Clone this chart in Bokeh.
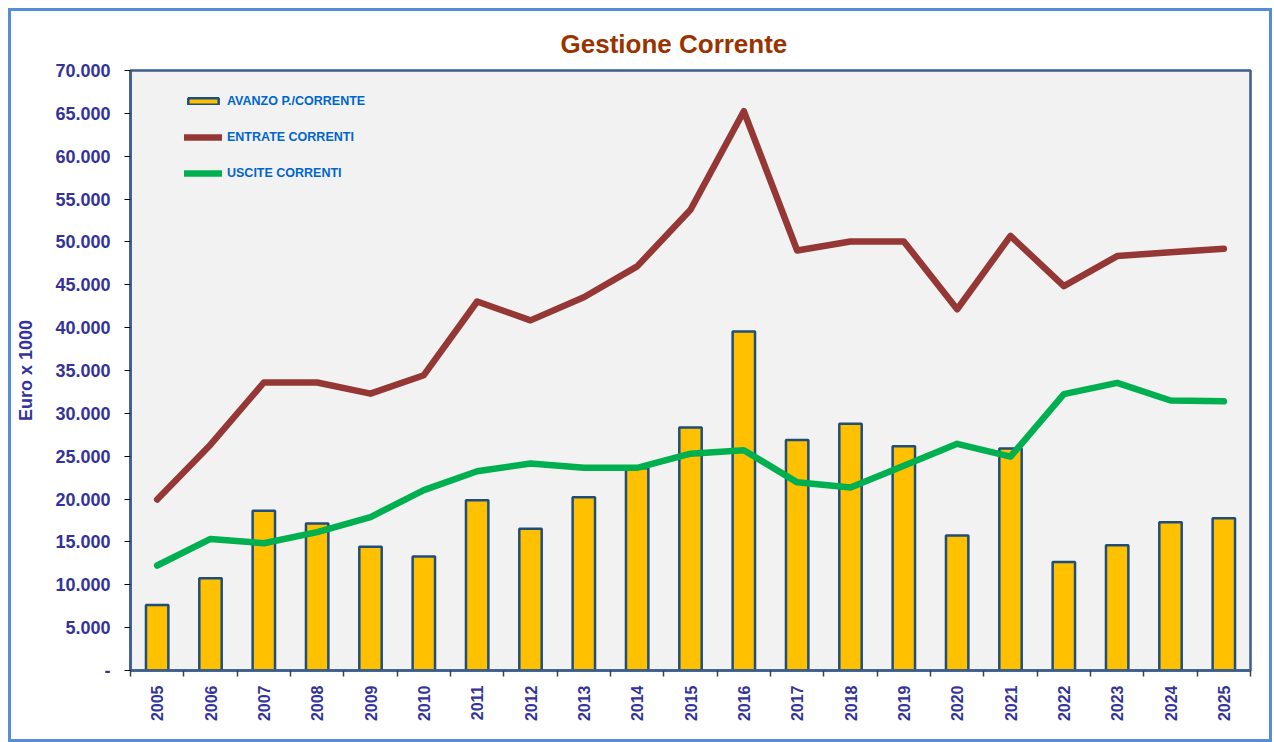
import math
from bokeh.plotting import figure
from bokeh.models import FixedTicker, Legend, LegendItem, Range1d
from bokeh.layouts import column
from bokeh.embed import file_html
from bokeh.resources import INLINE

# ---- data ----
years = [2005, 2006, 2007, 2008, 2009, 2010, 2011, 2012, 2013, 2014, 2015,
         2016, 2017, 2018, 2019, 2020, 2021, 2022, 2023, 2024, 2025]
avanzo = [7650, 10750, 18650, 17150, 14450, 13300, 19850, 16550, 20200, 23600, 28350,
          39550, 26900, 28800, 26150, 15750, 25900, 12650, 14600, 17300, 17750]
entrate = [19950, 26350, 33600, 33600, 32300, 34450, 43050, 40850, 43550, 47150, 53750,
           65250, 49000, 50050, 50050, 42150, 50700, 44850, 48350, 48800, 49200]
uscite = [12250, 15350, 14850, 16150, 17900, 21050, 23250, 24150, 23650, 23650, 25300,
          25700, 21950, 21350, 23900, 26450, 24950, 32250, 33550, 31500, 31400]
y_ticks = [0, 5000, 10000, 15000, 20000, 25000, 30000, 35000, 40000, 45000,
           50000, 55000, 60000, 65000, 70000]
series_labels = ["AVANZO P./CORRENTE", "ENTRATE CORRENTI", "USCITE CORRENTI"]
title_text = "Gestione Corrente"
y_label = "Euro x 1000"

FONT = "Liberation Sans"
AXIS_COL = "#333399"
FRAME_COL = "#3B5E8C"

p = figure(width=1258, height=728, output_backend="svg", toolbar_location=None,
           x_range=Range1d(years[0] - 0.5, years[-1] + 0.5),
           y_range=Range1d(0, 70000),
           min_border_left=119, min_border_right=19, min_border_top=59, min_border_bottom=69,
           background_fill_color="#F2F2F2", border_fill_color="white")

p.outline_line_color = FRAME_COL
p.outline_line_width = 2.5
p.xgrid.visible = False
p.ygrid.visible = False

# title
p.title.text = title_text
p.title.align = "left"
p.title.offset = 430
p.title.text_font = FONT
p.title.text_font_size = "26px"
p.title.text_font_style = "bold"
p.title.text_color = "#993300"
p.title.standoff = 23

bars = p.vbar(x=years, top=avanzo, width=0.42, fill_color="#FFC000",
              line_color="#1F4E79", line_width=2.5)
l1 = p.line(years, entrate, line_color="#953735", line_width=6.5,
            line_join="round", line_cap="round")
l2 = p.line(years, uscite, line_color="#00B050", line_width=6.5,
            line_join="round", line_cap="round")

# y axis
ya = p.yaxis[0]
ya.ticker = FixedTicker(ticks=y_ticks)
ya.major_label_overrides = {t: ("-" if t == 0 else f"{t:,}".replace(",", ".")) for t in y_ticks}
ya.major_label_text_font = FONT
ya.major_label_text_font_size = "18px"
ya.major_label_text_font_style = "bold"
ya.major_label_text_color = AXIS_COL
ya.major_tick_in = 0
ya.major_tick_out = 6
ya.major_tick_line_color = "black"
ya.minor_tick_line_color = None
ya.axis_line_color = FRAME_COL
ya.axis_line_width = 2.5
ya.major_label_standoff = 14
ya.axis_label = y_label
ya.axis_label_text_font = FONT
ya.axis_label_text_font_size = "18px"
ya.axis_label_text_font_style = "bold"
ya.axis_label_text_color = AXIS_COL
ya.axis_label_standoff = 16

# x axis
xa = p.xaxis[0]
xa.ticker = FixedTicker(ticks=years, minor_ticks=[y - 0.5 for y in years] + [years[-1] + 0.5])
xa.major_label_overrides = {y: str(y) for y in years}
xa.major_label_orientation = math.pi / 2
xa.major_label_text_font = FONT
xa.major_label_text_font_size = "16px"
xa.major_label_text_font_style = "bold"
xa.major_label_text_color = AXIS_COL
xa.major_tick_in = 0
xa.major_tick_out = 0
xa.minor_tick_in = 0
xa.minor_tick_out = 6
xa.minor_tick_line_color = "#404040"
xa.minor_tick_line_width = 1.5
xa.axis_line_color = FRAME_COL
xa.axis_line_width = 2.5
xa.major_label_standoff = 9

legend = Legend(items=[LegendItem(label=series_labels[0], renderers=[bars]),
                       LegendItem(label=series_labels[1], renderers=[l1]),
                       LegendItem(label=series_labels[2], renderers=[l2])],
                location=(54, 487), orientation="vertical",
                glyph_width=38, glyph_height=8, label_height=20, spacing=16,
                label_standoff=5, padding=0, margin=0,
                label_text_font=FONT, label_text_font_size="12.5px",
                label_text_font_style="bold", label_text_color="#0066CC",
                background_fill_alpha=0, border_line_color=None)
p.add_layout(legend)

layout = column(p, styles={"border": "3px solid #558ED5", "margin": "8px"})
open("out.html", "w").write(file_html(layout, INLINE))
